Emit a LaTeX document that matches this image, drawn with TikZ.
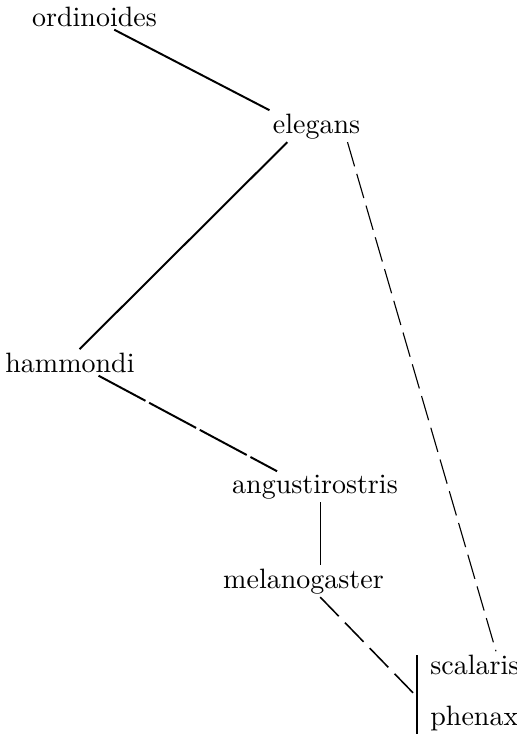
\documentclass[tikz,border=0pt]{standalone}
\usetikzlibrary{calc}

\begin{document}
\begin{tikzpicture}[x=0.357pt, y=-0.357pt,
    taxon/.style={inner sep=1pt, font=\normalsize},
    link/.style={line width=0.7pt},
    faint/.style={line width=0.4pt},
    doubtful/.style={line width=0.4pt, dash pattern=on 9pt off 2.8pt}]
  \useasboundingbox (0,0) rectangle (517,734);

  % species names (placed on their baselines)
  \node[taxon, anchor=base] (ordinoides) at (94.5,26) {ordinoides};
  \node[taxon, anchor=base] (elegans) at (316.5,133) {elegans};
  \node[taxon, anchor=base] (hammondi) at (70,372) {hammondi};
  \node[taxon, anchor=base] (angustirostris) at (315,493) {angustirostris};
  \node[taxon, anchor=base] (melanogaster) at (303.5,588) {melanogaster};
  \node[taxon, anchor=base west] (scalaris) at (427,674) {scalaris};
  \node[taxon, anchor=base west] (phenax) at (427,725) {phenax};

  % bracket joining scalaris and phenax
  \coordinate (brtop) at (417,655);
  \coordinate (brbot) at (417,734);
  \draw[link] (brtop) -- (brbot);

  % ---------- connectors ----------
  \draw[link] ($(ordinoides.south west)!0.65!(ordinoides.south east)$)
    -- (elegans.north west);
  \draw[link] ($(elegans.south west)!0.19!(elegans.south east)$)
    -- ($(hammondi.north west)!0.57!(hammondi.north east)$);
  \draw[doubtful] ($(elegans.south west)!0.83!(elegans.south east)$)
    -- ($(scalaris.north west)!0.72!(scalaris.north east)$);
  \draw[link, dash pattern=on 19pt off 1.5pt]
    ($(hammondi.south west)!0.71!(hammondi.south east)$)
    -- ($(angustirostris.north west)!0.28!(angustirostris.north east)$);
  \coordinate (angfoot) at ($(angustirostris.south west)!0.53!(angustirostris.south east)$);
  \draw[faint] (angfoot) -- (angfoot |- melanogaster.north);
  \draw[line width=0.55pt, dash pattern=on 9.5pt off 3.2pt]
    ($(melanogaster.south west)!0.6!(melanogaster.south east)$)
    -- ($(brtop)!0.53!(brbot)$);
\end{tikzpicture}
\end{document}
